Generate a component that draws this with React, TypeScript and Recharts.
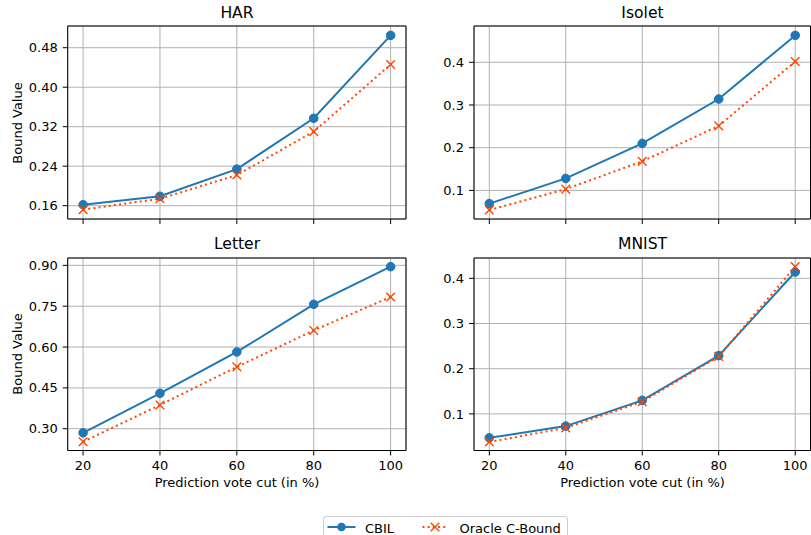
import * as React from 'react';
import {
  LineChart,
  Line,
  XAxis,
  YAxis,
  CartesianGrid,
  ReferenceArea,
} from 'recharts';

const cuts = [20, 40, 60, 80, 100];
const xTicks = [20, 40, 60, 80, 100];

const harCbil = [0.162, 0.179, 0.234, 0.337, 0.505];
const harOracle = [0.152, 0.174, 0.222, 0.31, 0.446];
const harTicks = [0.16, 0.24, 0.32, 0.4, 0.48];

const isoletCbil = [0.069, 0.128, 0.21, 0.314, 0.463];
const isoletOracle = [0.054, 0.103, 0.168, 0.251, 0.402];
const isoletTicks = [0.1, 0.2, 0.3, 0.4];

const letterCbil = [0.285, 0.43, 0.582, 0.757, 0.895];
const letterOracle = [0.252, 0.387, 0.527, 0.661, 0.784];
const letterTicks = [0.3, 0.45, 0.6, 0.75, 0.9];

const mnistCbil = [0.047, 0.073, 0.13, 0.229, 0.414];
const mnistOracle = [0.038, 0.069, 0.127, 0.227, 0.426];
const mnistTicks = [0.1, 0.2, 0.3, 0.4];

const BLUE = '#1f77b4';
const ORANGE = '#ff4500';
const FONT = '"DejaVu Sans", sans-serif';
const X_DOMAIN: [number, number] = [16, 104];

function rows(cbil: number[], oracle: number[]) {
  return cuts.map((x, i) => ({ x, cbil: cbil[i], oracle: oracle[i] }));
}

function CrossDot(props: any) {
  const { cx, cy, index } = props;
  if (cx == null || cy == null) return <g key={index} />;
  const s = 4.3;
  return (
    <path
      key={index}
      d={`M${cx - s},${cy - s}L${cx + s},${cy + s}M${cx - s},${cy + s}L${cx + s},${cy - s}`}
      stroke={ORANGE}
      strokeWidth={1.4}
      fill="none"
    />
  );
}

type PanelProps = {
  cbil: number[];
  oracle: number[];
  yDomain: [number, number];
  yTicks: number[];
  digits: number;
  left: number;
  top: number;
  yAxisWidth: number;
  plotWidth: number;
  plotHeight: number;
  marginTop: number;
  bottomRow: boolean;
};

function Panel(p: PanelProps) {
  const data = rows(p.cbil, p.oracle);
  const xAxisHeight = p.bottomRow ? 30 : 10;
  const width = p.yAxisWidth + p.plotWidth + 4;
  const height = p.marginTop + p.plotHeight + xAxisHeight;
  const tickStyle = { fill: '#000', fontSize: 13, fontFamily: FONT };
  return (
    <div style={{ position: 'absolute', left: p.left, top: p.top }}>
      <LineChart
        width={width}
        height={height}
        data={data}
        margin={{ top: p.marginTop, right: 4, bottom: 0, left: 0 }}
      >
        <CartesianGrid stroke="#b0b0b0" strokeWidth={1} />
        <XAxis
          dataKey="x"
          type="number"
          domain={X_DOMAIN}
          ticks={xTicks}
          allowDataOverflow
          height={xAxisHeight}
          axisLine={false}
          stroke="#000"
          tickSize={5}
          tickMargin={5}
          tick={tickStyle}
          tickFormatter={(v) => (p.bottomRow ? String(v) : '')}
        />
        <YAxis
          type="number"
          domain={p.yDomain}
          ticks={p.yTicks}
          allowDataOverflow
          width={p.yAxisWidth}
          axisLine={false}
          stroke="#000"
          tickSize={5}
          tickMargin={5}
          tick={tickStyle}
          tickFormatter={(v) => Number(v).toFixed(p.digits)}
        />
        <ReferenceArea
          x1={X_DOMAIN[0]}
          x2={X_DOMAIN[1]}
          y1={p.yDomain[0]}
          y2={p.yDomain[1]}
          fill="none"
          fillOpacity={0}
          stroke="#000"
          strokeWidth={1}
          ifOverflow="visible"
        />
        <Line
          dataKey="cbil"
          type="linear"
          stroke={BLUE}
          strokeWidth={2}
          dot={{ r: 4.3, fill: BLUE, stroke: BLUE, strokeWidth: 1 }}
          activeDot={false}
          isAnimationActive={false}
        />
        <Line
          dataKey="oracle"
          type="linear"
          stroke={ORANGE}
          strokeWidth={2}
          strokeDasharray="2 3.2"
          dot={CrossDot}
          activeDot={false}
          isAnimationActive={false}
        />
      </LineChart>
    </div>
  );
}

function Title({ text, cx, cy }: { text: string; cx: number; cy: number }) {
  return (
    <div
      style={{
        position: 'absolute',
        left: cx - 100,
        width: 200,
        top: cy - 0.48 * 15.6,
        textAlign: 'center',
        fontSize: 15.6,
        lineHeight: 1,
        fontFamily: FONT,
        color: '#000',
        whiteSpace: 'nowrap',
      }}
    >
      {text}
    </div>
  );
}

function YLabel({ cy }: { cy: number }) {
  return (
    <div
      style={{
        position: 'absolute',
        left: 17,
        top: cy,
        transform: 'translate(-50%, -50%) rotate(-90deg)',
        fontSize: 13,
        lineHeight: 1,
        fontFamily: FONT,
        color: '#000',
        whiteSpace: 'nowrap',
      }}
    >
      Bound Value
    </div>
  );
}

function XLabel({ cx }: { cx: number }) {
  return (
    <div
      style={{
        position: 'absolute',
        left: cx - 150,
        width: 300,
        top: 475.5,
        textAlign: 'center',
        fontSize: 13,
        lineHeight: 1,
        fontFamily: FONT,
        color: '#000',
        whiteSpace: 'nowrap',
      }}
    >
      Prediction vote cut (in %)
    </div>
  );
}

function LegendBox() {
  const text = { fontSize: 13, lineHeight: 1, fontFamily: FONT, color: '#000', position: 'absolute' as const, top: 5 };
  return (
    <div
      style={{
        position: 'absolute',
        left: 322.5,
        top: 516,
        width: 245,
        height: 30,
        border: '1px solid #cccccc',
        borderRadius: 3,
        background: '#fff',
        boxSizing: 'border-box',
      }}
    >
      <svg width={245} height={30} style={{ position: 'absolute', left: -1, top: -1 }}>
        <line x1={4.5} x2={32.5} y1={11} y2={11} stroke={BLUE} strokeWidth={2} />
        <circle cx={18.5} cy={11} r={4.3} fill={BLUE} />
        <line x1={99.5} x2={124.5} y1={11} y2={11} stroke={ORANGE} strokeWidth={2} strokeDasharray="2 3.2" />
        <path d="M107.7,6.7L116.3,15.3M107.7,15.3L116.3,6.7" stroke={ORANGE} strokeWidth={1.4} />
      </svg>
      <span style={{ ...text, left: 41.5 }}>CBIL</span>
      <span style={{ ...text, left: 136 }}>Oracle C-Bound</span>
    </div>
  );
}

export default function App() {
  return (
    <div
      style={{
        position: 'absolute',
        left: 0,
        top: 0,
        width: 811,
        height: 535,
        overflow: 'hidden',
        background: '#fff',
      }}
    >
      <Panel
        cbil={harCbil}
        oracle={harOracle}
        yDomain={[0.133, 0.524]}
        yTicks={harTicks}
        digits={2}
        left={0}
        top={0}
        yAxisWidth={67.7}
        plotWidth={338.3}
        plotHeight={193}
        marginTop={26}
        bottomRow={false}
      />
      <Panel
        cbil={isoletCbil}
        oracle={isoletOracle}
        yDomain={[0.033, 0.485]}
        yTicks={isoletTicks}
        digits={1}
        left={424}
        top={0}
        yAxisWidth={50}
        plotWidth={336.5}
        plotHeight={193}
        marginTop={26}
        bottomRow={false}
      />
      <Panel
        cbil={letterCbil}
        oracle={letterOracle}
        yDomain={[0.22, 0.927]}
        yTicks={letterTicks}
        digits={2}
        left={0}
        top={252.5}
        yAxisWidth={67.7}
        plotWidth={338.3}
        plotHeight={192.5}
        marginTop={5}
        bottomRow={true}
      />
      <Panel
        cbil={mnistCbil}
        oracle={mnistOracle}
        yDomain={[0.019, 0.445]}
        yTicks={mnistTicks}
        digits={1}
        left={424}
        top={252.5}
        yAxisWidth={50}
        plotWidth={336.5}
        plotHeight={192.5}
        marginTop={5}
        bottomRow={true}
      />
      <Title text="HAR" cx={237} cy={13} />
      <Title text="Isolet" cx={642.5} cy={13} />
      <Title text="Letter" cx={237} cy={244.5} />
      <Title text="MNIST" cx={642.5} cy={244.5} />
      <YLabel cy={122.5} />
      <YLabel cy={353.8} />
      <XLabel cx={237} />
      <XLabel cx={642.5} />
      <LegendBox />
    </div>
  );
}
